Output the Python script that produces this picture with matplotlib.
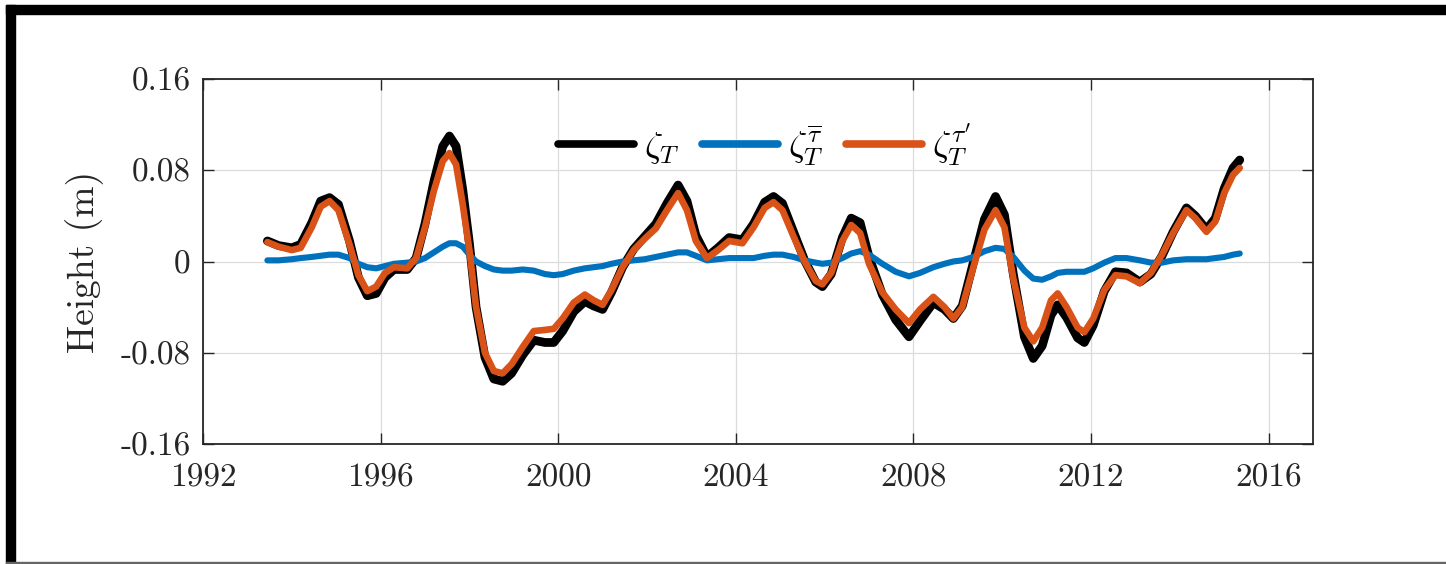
import numpy as np
import matplotlib.pyplot as plt
from matplotlib.patches import Rectangle

# =========================
# データ
# =========================
years = [1993.45, 1993.7, 1994.0, 1994.2, 1994.45, 1994.65, 1994.85, 1995.05, 1995.3, 1995.5,
         1995.7, 1995.9, 1996.1, 1996.3, 1996.6, 1996.8, 1997.0, 1997.2, 1997.4, 1997.55,
         1997.7, 1997.85, 1998.0, 1998.15, 1998.35, 1998.55, 1998.75, 1998.95, 1999.2, 1999.45,
         1999.7, 1999.9, 2000.1, 2000.35, 2000.6, 2000.8, 2001.0, 2001.2, 2001.45, 2001.7,
         2001.95, 2002.2, 2002.45, 2002.7, 2002.9, 2003.1, 2003.35, 2003.6, 2003.85, 2004.15,
         2004.4, 2004.65, 2004.85, 2005.05, 2005.3, 2005.55, 2005.8, 2005.95, 2006.15, 2006.4,
         2006.6, 2006.8, 2007.0, 2007.3, 2007.6, 2007.9, 2008.15, 2008.45, 2008.7, 2008.9,
         2009.1, 2009.35, 2009.6, 2009.85, 2010.05, 2010.25, 2010.5, 2010.7, 2010.9, 2011.1,
         2011.25, 2011.45, 2011.7, 2011.85, 2012.05, 2012.3, 2012.55, 2012.8, 2013.1, 2013.35,
         2013.6, 2013.85, 2014.15, 2014.35, 2014.6, 2014.8, 2015.0, 2015.2, 2015.35]

zeta_total = [0.018, 0.014, 0.012, 0.015, 0.034, 0.053, 0.056, 0.050, 0.018, -0.014,
              -0.030, -0.028, -0.014, -0.007, -0.007, 0.003, 0.033, 0.070, 0.101, 0.110,
              0.101, 0.063, 0.016, -0.040, -0.084, -0.103, -0.105, -0.098, -0.082, -0.069,
              -0.071, -0.071, -0.061, -0.044, -0.035, -0.039, -0.042, -0.027, -0.005, 0.011,
              0.022, 0.033, 0.051, 0.067, 0.053, 0.023, 0.004, 0.012, 0.021, 0.019,
              0.033, 0.052, 0.057, 0.051, 0.026, 0.001, -0.018, -0.022, -0.011, 0.021,
              0.038, 0.034, 0.004, -0.029, -0.051, -0.066, -0.052, -0.036, -0.042, -0.050,
              -0.039, -0.001, 0.037, 0.057, 0.041, -0.011, -0.066, -0.085, -0.074, -0.047,
              -0.038, -0.049, -0.067, -0.071, -0.056, -0.026, -0.009, -0.010, -0.018, -0.011,
              0.005, 0.026, 0.047, 0.040, 0.028, 0.038, 0.064, 0.082, 0.089]

zeta_mean = [0.001, 0.001, 0.002, 0.003, 0.004, 0.005, 0.006, 0.006, 0.003, -0.002,
             -0.005, -0.006, -0.004, -0.002, -0.001, 0.000, 0.003, 0.008, 0.013, 0.016,
             0.016, 0.013, 0.006, 0.000, -0.004, -0.007, -0.008, -0.008, -0.007, -0.008,
             -0.011, -0.012, -0.011, -0.008, -0.006, -0.005, -0.004, -0.002, 0.000, 0.001,
             0.002, 0.004, 0.006, 0.008, 0.008, 0.005, 0.001, 0.002, 0.003, 0.003,
             0.003, 0.005, 0.006, 0.006, 0.004, 0.001, -0.001, -0.002, -0.001, 0.003,
             0.007, 0.009, 0.006, -0.002, -0.009, -0.013, -0.010, -0.005, -0.002, 0.000,
             0.001, 0.004, 0.009, 0.012, 0.011, 0.004, -0.008, -0.015, -0.016, -0.013,
             -0.010, -0.009, -0.009, -0.009, -0.006, -0.001, 0.003, 0.003, 0.001, -0.001,
             -0.001, 0.001, 0.002, 0.002, 0.002, 0.003, 0.004, 0.006, 0.007]

zeta_prime = [0.017, 0.013, 0.010, 0.012, 0.030, 0.048, 0.053, 0.045, 0.015, -0.012,
              -0.026, -0.022, -0.010, -0.005, -0.006, 0.003, 0.030, 0.062, 0.088, 0.095,
              0.085, 0.050, 0.010, -0.040, -0.080, -0.096, -0.098, -0.090, -0.075, -0.061,
              -0.060, -0.059, -0.050, -0.036, -0.029, -0.034, -0.038, -0.025, -0.005, 0.010,
              0.020, 0.029, 0.045, 0.060, 0.045, 0.018, 0.003, 0.010, 0.018, 0.016,
              0.030, 0.047, 0.052, 0.045, 0.022, 0.000, -0.017, -0.020, -0.010, 0.018,
              0.032, 0.025, -0.002, -0.027, -0.042, -0.054, -0.042, -0.031, -0.040, -0.050,
              -0.040, -0.005, 0.028, 0.045, 0.030, -0.015, -0.058, -0.070, -0.058, -0.034,
              -0.028, -0.040, -0.058, -0.062, -0.050, -0.025, -0.012, -0.013, -0.019, -0.010,
              0.006, 0.025, 0.045, 0.038, 0.026, 0.035, 0.060, 0.076, 0.082]

xticks = [1992, 1996, 2000, 2004, 2008, 2012, 2016]
yticks = [-0.16, -0.08, 0, 0.08, 0.16]
ytick_labels = ["-0.16", "-0.08", "0", "0.08", "0.16"]

# =========================
# 図の設定
# =========================
plt.rcParams["mathtext.fontset"] = "cm"
plt.rcParams["font.family"] = ["cmr10", "DejaVu Serif"]
plt.rcParams["axes.formatter.use_mathtext"] = True

W, H = 1446, 564
fig = plt.figure(figsize=(W / 100, H / 100), dpi=100)
ax = fig.add_axes([203 / W, 1 - 444 / H, (1313 - 203) / W, (444 - 79) / H])

style = dict(solid_capstyle="round", solid_joinstyle="round")
ax.plot(years, zeta_total, color="black", lw=6.3, label=r"$\zeta_T$", **style)
ax.plot(years, zeta_mean, color="#0072BD", lw=4.4,
        label=r"$\zeta_T^{\overline{\tau}}$", **style)
ax.plot(years, zeta_prime, color="#D95319", lw=4.8, label=r"$\zeta_T^{\tau'}$", **style)

ax.set_xlim(1992, 2017)
ax.set_ylim(-0.16, 0.16)
ax.set_xticks(xticks)
ax.set_xticklabels([str(x) for x in xticks])
ax.set_yticks(yticks)
ax.set_yticklabels(ytick_labels)

ax.grid(True, color="#dcdcdc", lw=0.9)
ax.set_axisbelow(True)
ax.tick_params(direction="in", length=8, width=1.0, color="#262626",
               top=True, right=True, labelsize=24, labelcolor="#262626", pad=9)
ax.tick_params(axis="x", pad=14)
for s in ax.spines.values():
    s.set_color("#262626")
    s.set_linewidth(1.3)

ax.set_ylabel("Height (m)", fontsize=27, color="#262626", labelpad=12)

leg = ax.legend(loc="center", bbox_to_anchor=(0.506, 0.82), ncol=3, frameon=False,
                fontsize=26, handlelength=2.1, handletextpad=0.3, columnspacing=0.6)
for ln in leg.get_lines():
    ln.set_linewidth(5.5)

# 外枠 (左・上の太線、下の細線)
fig.patches.append(Rectangle((6 / W, 0), 9 / W, 1 - 5 / H, transform=fig.transFigure,
                             color="black", zorder=10))
fig.patches.append(Rectangle((6 / W, 1 - 14 / H), 1 - 6 / W, 9 / H, transform=fig.transFigure,
                             color="black", zorder=10))
fig.patches.append(Rectangle((6 / W, 1 / H), 1 - 6 / W, 1.5 / H, transform=fig.transFigure,
                             color="#666666", zorder=10))

fig.savefig("out.png", dpi=100)
